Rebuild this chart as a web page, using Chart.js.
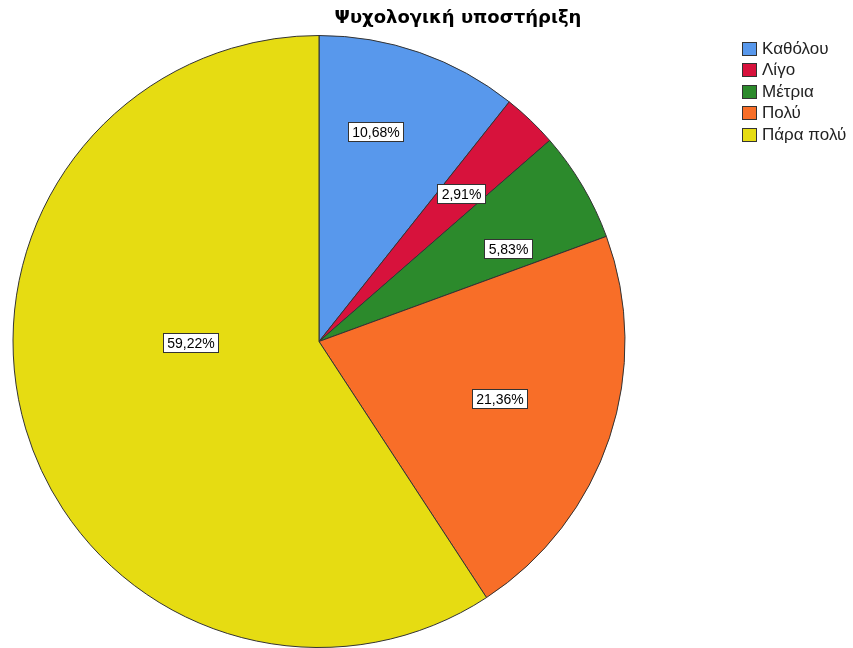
<!DOCTYPE html>
<html>
<head>
<meta charset="utf-8">
<title>Ψυχολογική υποστήριξη</title>
<script src="https://cdn.jsdelivr.net/npm/chart.js@4"></script>
<style>
  html, body { margin: 0; padding: 0; background: #fff; }
  #wrap { width: 853px; height: 648px; }
</style>
</head>
<body>
<div id="wrap"><canvas id="supportChart"></canvas></div>
<script>
// answers and their shares (%)
const chartTitle = "Ψυχολογική υποστήριξη"
const categories = ["Καθόλου", "Λίγο", "Μέτρια", "Πολύ", "Πάρα πολύ"]
const percents = [10.68, 2.91, 5.83, 21.36, 59.22]
const sliceColors = ["#5898ec", "#d7123c", "#2c8a2c", "#f86e28", "#e6dc12"]

// where each % box sits inside its slice: [fraction of the slice angle, fraction of radius]
const labelAnchors = [[0.39, 0.71], [0.5, 0.67], [0.71, 0.69], [0.49, 0.62], [0.575, 0.42]]

// value boxes drawn on top of the slices
const pctLabels = {
  id: "pctLabels",
  afterDatasetsDraw(chart) {
    const ctx = chart.ctx
    const meta = chart.getDatasetMeta(0)
    ctx.save()
    ctx.font = "14px Arial, 'Liberation Sans', sans-serif"
    ctx.textAlign = "center"
    ctx.textBaseline = "middle"
    meta.data.forEach((arc, i) => {
      const p = arc.getProps(["x", "y", "startAngle", "endAngle", "outerRadius"], true)
      const a = labelAnchors[i]
      const ang = p.startAngle + (p.endAngle - p.startAngle) * a[0]
      const x = p.x + Math.cos(ang) * p.outerRadius * a[1]
      const y = p.y + Math.sin(ang) * p.outerRadius * a[1]
      const txt = percents[i].toFixed(2).replace(".", ",") + "%"
      const w = Math.round(ctx.measureText(txt).width + 8)
      const h = 19
      const bx = Math.round(x - w / 2) + 0.5
      const by = Math.round(y - h / 2) + 0.5
      ctx.fillStyle = "#fff"
      ctx.fillRect(bx, by, w, h)
      ctx.strokeStyle = "#333"
      ctx.lineWidth = 1
      ctx.strokeRect(bx, by, w, h)
      ctx.fillStyle = "#000"
      ctx.fillText(txt, bx + w / 2, by + h / 2 + 1)
    })
    ctx.restore()
  },
}

// title and legend in the top band / top right corner
const headerAndLegend = {
  id: "headerAndLegend",
  afterDraw(chart) {
    const ctx = chart.ctx
    ctx.save()
    ctx.fillStyle = "#000"
    ctx.font = "bold 18px 'DejaVu Sans', Verdana, sans-serif"
    ctx.textAlign = "center"
    ctx.textBaseline = "middle"
    ctx.fillText(chartTitle, 458, 18)

    ctx.font = "17px Arial, 'Liberation Sans', sans-serif"
    ctx.textAlign = "left"
    chart.data.labels.forEach((lab, i) => {
      const y = Math.round(42 + i * 21.4) + 0.5
      ctx.fillStyle = sliceColors[i]
      ctx.fillRect(742.5, y, 14, 13)
      ctx.strokeStyle = "#333"
      ctx.lineWidth = 1
      ctx.strokeRect(742.5, y, 14, 13)
      ctx.fillStyle = "#222"
      ctx.fillText(lab, 762, y + 7)
    })
    ctx.restore()
  },
}

const ctx = document.getElementById("supportChart").getContext("2d")
const supportChart = new Chart(ctx, {
  type: "pie",
  data: {
    labels: categories,
    datasets: [
      {
        data: percents,
        backgroundColor: sliceColors,
        borderColor: "#333",
        borderWidth: 1,
      },
    ],
  },
  options: {
    responsive: true,
    maintainAspectRatio: false,
    animation: false,
    layout: { padding: { top: 35, right: 215 } },
    plugins: {
      legend: { display: false },
      tooltip: { enabled: false },
      title: { display: false },
    },
  },
  plugins: [pctLabels, headerAndLegend],
})
</script>
</body>
</html>
